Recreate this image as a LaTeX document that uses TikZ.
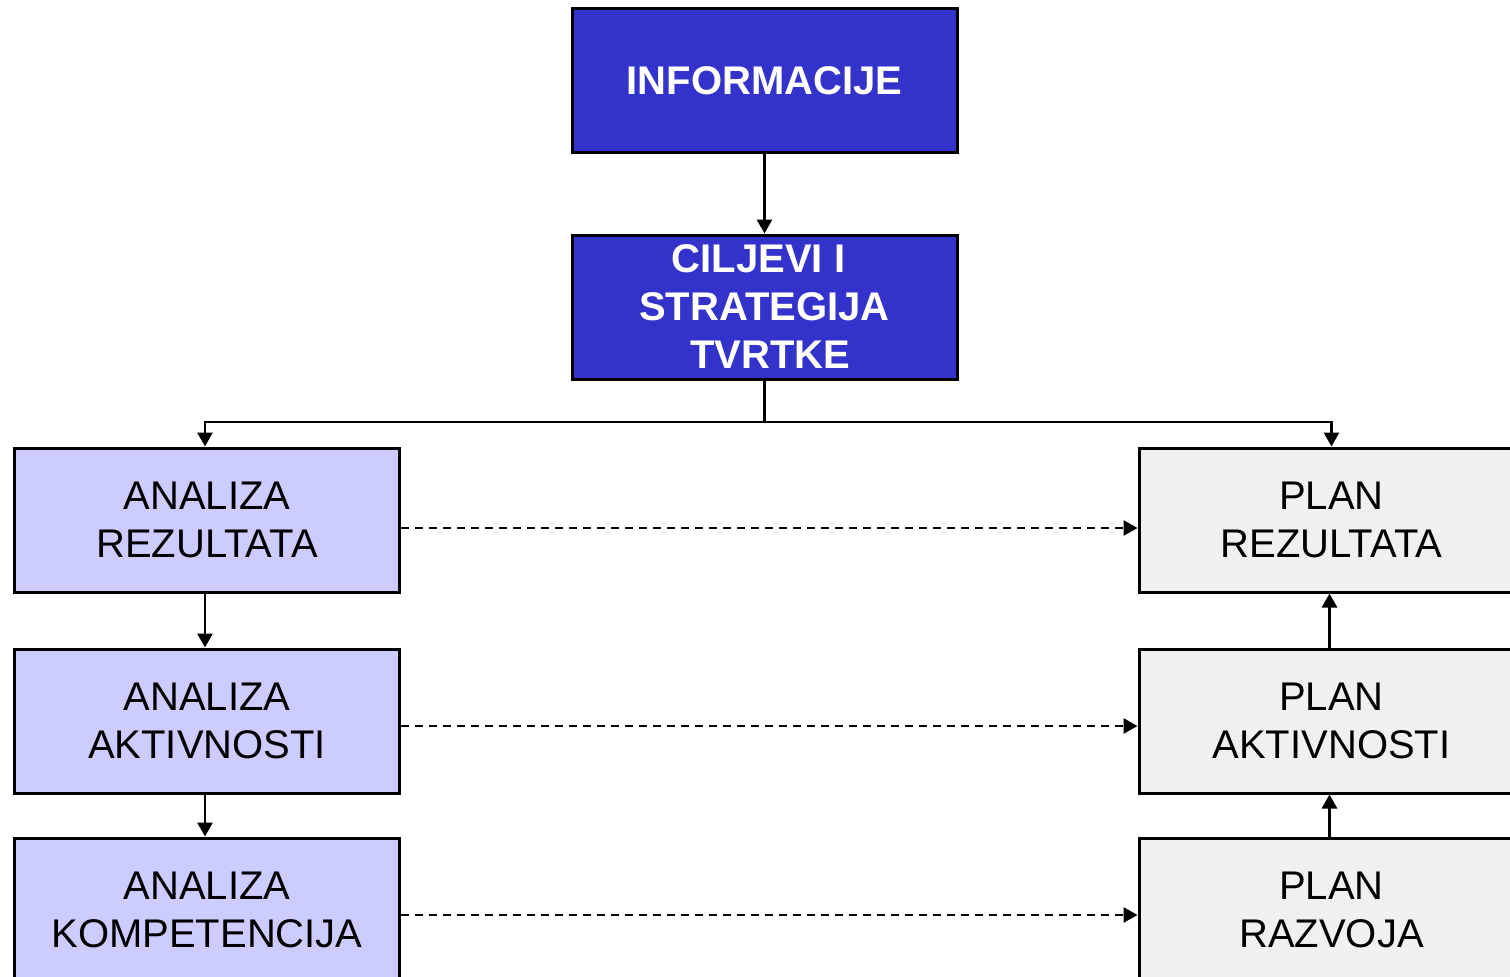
\documentclass[tikz,border=0pt]{standalone}
\usepackage{fontspec}
\setmainfont{Liberation Sans}
\usetikzlibrary{arrows.meta}
\definecolor{dblue}{RGB}{51,51,204}
\definecolor{lblue}{RGB}{204,204,255}
\definecolor{lgray}{RGB}{240,240,240}
\begin{document}
\begin{tikzpicture}[x=1pt,y=-1pt,
  box/.style={draw=black, line width=3pt, minimum width=385pt, minimum height=144pt,
    align=center, inner sep=0pt, font=\fontsize{40}{48}\selectfont},
  topbox/.style={box, fill=dblue, text=white, font=\fontsize{40}{48}\selectfont\bfseries},
  anabox/.style={box, fill=lblue},
  planbox/.style={box, fill=lgray},
  conn/.style={draw=black, line width=2.8pt},
  arr/.style={conn, -{Triangle[width=15pt,length=14pt]}},
  darr/.style={arr, dash pattern=on 8pt off 6pt}]
\useasboundingbox (0,0) rectangle (1510,977);
\clip (0,0) rectangle (1510,977);
\fill[white] (0,0) rectangle (1510,977);
\node[topbox] (info) at (764.5,80.5) {INFORMACIJE};
\node[topbox] (cil) at (764.5,307) {CILJEVI I\hbox{}\kern12pt\\STRATEGIJA\\\kern12pt TVRTKE};
\node[anabox] (ar) at (207,520) {ANALIZA\\REZULTATA};
\node[anabox] (aa) at (207,721) {ANALIZA\\AKTIVNOSTI};
\node[anabox] (ak) at (207,910) {ANALIZA\\KOMPETENCIJA};
\node[planbox] (pr) at (1331.5,520) {PLAN\\REZULTATA};
\node[planbox] (pa) at (1331.5,721) {PLAN\\AKTIVNOSTI};
\node[planbox] (pz) at (1331.5,910) {PLAN\\RAZVOJA};
\coordinate (j) at (764.5,422);
\draw[arr] (info.south) -- (cil.north);
\draw[conn] (cil.south) -- (j);
\draw[arr] (j) -| ([xshift=-2pt]ar.north);
\draw[arr] (j) -| (pr.north);
\draw[arr] ([xshift=-2pt]ar.south) -- ([xshift=-2pt]aa.north);
\draw[arr] ([xshift=-2pt]aa.south) -- ([xshift=-2pt]ak.north);
\draw[arr] ([xshift=-2pt]pa.north) -- ([xshift=-2pt]pr.south);
\draw[arr] ([xshift=-2pt]pz.north) -- ([xshift=-2pt]pa.south);
\draw[darr] ([yshift=-8pt]ar.east) -- ([yshift=-8pt]pr.west);
\draw[darr] ([yshift=-5pt]aa.east) -- ([yshift=-5pt]pa.west);
\draw[darr] ([yshift=-5pt]ak.east) -- ([yshift=-5pt]pz.west);
\end{tikzpicture}
\end{document}
